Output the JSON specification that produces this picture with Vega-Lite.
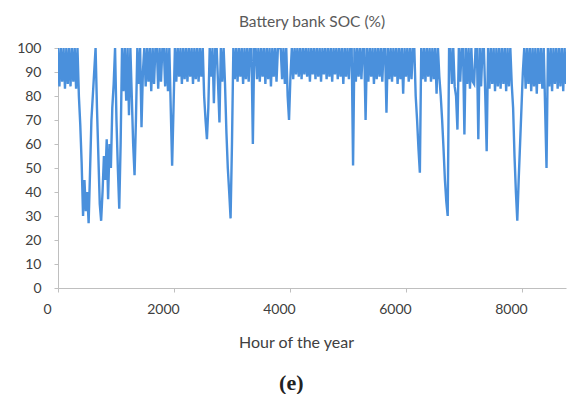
{
"$schema": "https://vega.github.io/schema/vega-lite/v6.json",
"background": "white",
"padding": {"left": 16, "top": 14, "right": 2, "bottom": 0},
"config": {"view": {"stroke": null}, "font": "Lato"},
"title": {"text": "(e)", "orient": "bottom", "anchor": "middle", "font": "Liberation Serif", "fontSize": 22, "fontWeight": "bold", "color": "#222222", "offset": 23},
"vconcat": [{
"width": 508,
"height": 240,
"title": {"text": "Battery bank SOC (%)", "anchor": "middle", "frame": "group", "fontSize": 15.5, "fontWeight": "normal", "color": "#595959", "offset": 11},
"data": {"values": [
{"h":0,"s":100},{"h":24,"s":84},{"h":48,"s":100},{"h":72,"s":86},{"h":96,"s":100},{"h":120,"s":83},{"h":144,"s":100},{"h":168,"s":85},{"h":192,"s":100},{"h":216,"s":84},
{"h":240,"s":100},{"h":264,"s":86},{"h":288,"s":100},{"h":312,"s":83},{"h":336,"s":100},{"h":360,"s":80},{"h":384,"s":68},{"h":408,"s":52},{"h":432,"s":30},{"h":456,"s":45},
{"h":480,"s":32},{"h":504,"s":40},{"h":528,"s":27},{"h":552,"s":48},{"h":576,"s":70},{"h":600,"s":80},{"h":624,"s":90},{"h":648,"s":100},{"h":672,"s":75},{"h":696,"s":55},
{"h":720,"s":35},{"h":744,"s":28},{"h":768,"s":40},{"h":792,"s":55},{"h":816,"s":45},{"h":840,"s":62},{"h":864,"s":37},{"h":888,"s":60},{"h":912,"s":50},{"h":936,"s":75},
{"h":960,"s":85},{"h":984,"s":100},{"h":1008,"s":70},{"h":1032,"s":50},{"h":1056,"s":33},{"h":1080,"s":60},{"h":1104,"s":100},{"h":1128,"s":82},{"h":1152,"s":100},{"h":1176,"s":78},
{"h":1200,"s":100},{"h":1224,"s":72},{"h":1248,"s":100},{"h":1272,"s":80},{"h":1296,"s":60},{"h":1320,"s":47},{"h":1344,"s":70},{"h":1368,"s":100},{"h":1392,"s":85},{"h":1416,"s":100},
{"h":1440,"s":67},{"h":1464,"s":90},{"h":1488,"s":100},{"h":1512,"s":84},{"h":1536,"s":100},{"h":1560,"s":86},{"h":1584,"s":100},{"h":1608,"s":82},{"h":1632,"s":100},{"h":1656,"s":85},
{"h":1680,"s":100},{"h":1704,"s":100},{"h":1728,"s":83},{"h":1752,"s":100},{"h":1776,"s":86},{"h":1800,"s":100},{"h":1824,"s":100},{"h":1848,"s":84},{"h":1872,"s":100},{"h":1896,"s":82},
{"h":1920,"s":100},{"h":1944,"s":75},{"h":1968,"s":51},{"h":1992,"s":75},{"h":2016,"s":100},{"h":2040,"s":86},{"h":2064,"s":100},{"h":2088,"s":88},{"h":2112,"s":100},{"h":2136,"s":85},
{"h":2160,"s":100},{"h":2184,"s":87},{"h":2208,"s":100},{"h":2232,"s":86},{"h":2256,"s":100},{"h":2280,"s":88},{"h":2304,"s":100},{"h":2328,"s":85},{"h":2352,"s":100},{"h":2376,"s":87},
{"h":2400,"s":100},{"h":2424,"s":86},{"h":2448,"s":100},{"h":2472,"s":88},{"h":2496,"s":100},{"h":2520,"s":80},{"h":2544,"s":70},{"h":2568,"s":62},{"h":2592,"s":75},{"h":2616,"s":100},
{"h":2640,"s":88},{"h":2664,"s":100},{"h":2688,"s":77},{"h":2712,"s":100},{"h":2736,"s":100},{"h":2760,"s":85},{"h":2784,"s":69},{"h":2808,"s":100},{"h":2832,"s":86},{"h":2856,"s":100},
{"h":2880,"s":85},{"h":2904,"s":65},{"h":2928,"s":50},{"h":2952,"s":40},{"h":2976,"s":29},{"h":3000,"s":60},{"h":3024,"s":100},{"h":3048,"s":87},{"h":3072,"s":100},{"h":3096,"s":86},
{"h":3120,"s":100},{"h":3144,"s":88},{"h":3168,"s":100},{"h":3192,"s":85},{"h":3216,"s":100},{"h":3240,"s":87},{"h":3264,"s":100},{"h":3288,"s":86},{"h":3312,"s":100},{"h":3336,"s":100},
{"h":3360,"s":60},{"h":3384,"s":100},{"h":3408,"s":100},{"h":3432,"s":87},{"h":3456,"s":100},{"h":3480,"s":86},{"h":3504,"s":100},{"h":3528,"s":88},{"h":3552,"s":100},{"h":3576,"s":85},
{"h":3600,"s":100},{"h":3624,"s":87},{"h":3648,"s":100},{"h":3672,"s":84},{"h":3696,"s":100},{"h":3720,"s":88},{"h":3744,"s":100},{"h":3768,"s":86},{"h":3792,"s":100},{"h":3816,"s":100},
{"h":3840,"s":100},{"h":3864,"s":87},{"h":3888,"s":100},{"h":3912,"s":85},{"h":3936,"s":100},{"h":3960,"s":80},{"h":3984,"s":70},{"h":4008,"s":88},{"h":4032,"s":100},{"h":4056,"s":87},
{"h":4080,"s":100},{"h":4104,"s":89},{"h":4128,"s":100},{"h":4152,"s":88},{"h":4176,"s":100},{"h":4200,"s":87},{"h":4224,"s":100},{"h":4248,"s":89},{"h":4272,"s":100},{"h":4296,"s":88},
{"h":4320,"s":100},{"h":4344,"s":86},{"h":4368,"s":100},{"h":4392,"s":89},{"h":4416,"s":100},{"h":4440,"s":87},{"h":4464,"s":100},{"h":4488,"s":88},{"h":4512,"s":100},{"h":4536,"s":86},
{"h":4560,"s":100},{"h":4584,"s":89},{"h":4608,"s":100},{"h":4632,"s":87},{"h":4656,"s":100},{"h":4680,"s":88},{"h":4704,"s":100},{"h":4728,"s":86},{"h":4752,"s":100},{"h":4776,"s":89},
{"h":4800,"s":100},{"h":4824,"s":87},{"h":4848,"s":100},{"h":4872,"s":88},{"h":4896,"s":100},{"h":4920,"s":85},{"h":4944,"s":100},{"h":4968,"s":88},{"h":4992,"s":100},{"h":5016,"s":87},
{"h":5040,"s":100},{"h":5064,"s":100},{"h":5088,"s":51},{"h":5112,"s":100},{"h":5136,"s":86},{"h":5160,"s":100},{"h":5184,"s":88},{"h":5208,"s":100},{"h":5232,"s":87},{"h":5256,"s":100},
{"h":5280,"s":100},{"h":5304,"s":70},{"h":5328,"s":100},{"h":5352,"s":86},{"h":5376,"s":100},{"h":5400,"s":88},{"h":5424,"s":100},{"h":5448,"s":85},{"h":5472,"s":100},{"h":5496,"s":87},
{"h":5520,"s":100},{"h":5544,"s":88},{"h":5568,"s":100},{"h":5592,"s":86},{"h":5616,"s":100},{"h":5640,"s":100},{"h":5664,"s":73},{"h":5688,"s":100},{"h":5712,"s":87},{"h":5736,"s":100},
{"h":5760,"s":86},{"h":5784,"s":100},{"h":5808,"s":88},{"h":5832,"s":100},{"h":5856,"s":85},{"h":5880,"s":100},{"h":5904,"s":87},{"h":5928,"s":100},{"h":5952,"s":81},{"h":5976,"s":100},
{"h":6000,"s":88},{"h":6024,"s":100},{"h":6048,"s":86},{"h":6072,"s":100},{"h":6096,"s":87},{"h":6120,"s":100},{"h":6144,"s":100},{"h":6168,"s":80},{"h":6192,"s":70},{"h":6216,"s":58},
{"h":6240,"s":48},{"h":6264,"s":100},{"h":6288,"s":87},{"h":6312,"s":100},{"h":6336,"s":86},{"h":6360,"s":100},{"h":6384,"s":88},{"h":6408,"s":100},{"h":6432,"s":86},{"h":6456,"s":100},
{"h":6480,"s":87},{"h":6504,"s":100},{"h":6528,"s":81},{"h":6552,"s":100},{"h":6576,"s":88},{"h":6600,"s":80},{"h":6624,"s":70},{"h":6648,"s":58},{"h":6672,"s":45},{"h":6696,"s":36},
{"h":6720,"s":30},{"h":6744,"s":100},{"h":6768,"s":100},{"h":6792,"s":85},{"h":6816,"s":100},{"h":6840,"s":84},{"h":6864,"s":80},{"h":6888,"s":66},{"h":6912,"s":100},{"h":6936,"s":86},
{"h":6960,"s":100},{"h":6984,"s":100},{"h":7008,"s":64},{"h":7032,"s":100},{"h":7056,"s":85},{"h":7080,"s":100},{"h":7104,"s":83},{"h":7128,"s":100},{"h":7152,"s":86},{"h":7176,"s":85},
{"h":7200,"s":100},{"h":7224,"s":100},{"h":7248,"s":62},{"h":7272,"s":100},{"h":7296,"s":84},{"h":7320,"s":100},{"h":7344,"s":100},{"h":7368,"s":80},{"h":7392,"s":57},{"h":7416,"s":100},
{"h":7440,"s":83},{"h":7464,"s":100},{"h":7488,"s":85},{"h":7512,"s":100},{"h":7536,"s":82},{"h":7560,"s":100},{"h":7584,"s":84},{"h":7608,"s":100},{"h":7632,"s":83},{"h":7656,"s":100},
{"h":7680,"s":85},{"h":7704,"s":100},{"h":7728,"s":82},{"h":7752,"s":100},{"h":7776,"s":84},{"h":7800,"s":100},{"h":7824,"s":85},{"h":7848,"s":75},{"h":7872,"s":55},{"h":7896,"s":40},
{"h":7920,"s":28},{"h":7944,"s":45},{"h":7968,"s":60},{"h":7992,"s":75},{"h":8016,"s":90},{"h":8040,"s":100},{"h":8064,"s":83},{"h":8088,"s":100},{"h":8112,"s":85},{"h":8136,"s":100},
{"h":8160,"s":82},{"h":8184,"s":100},{"h":8208,"s":84},{"h":8232,"s":100},{"h":8256,"s":81},{"h":8280,"s":100},{"h":8304,"s":85},{"h":8328,"s":100},{"h":8352,"s":83},{"h":8376,"s":100},
{"h":8400,"s":75},{"h":8424,"s":50},{"h":8448,"s":100},{"h":8472,"s":84},{"h":8496,"s":100},{"h":8520,"s":82},{"h":8544,"s":100},{"h":8568,"s":85},{"h":8592,"s":100},{"h":8616,"s":83},
{"h":8640,"s":100},{"h":8664,"s":84},{"h":8688,"s":100},{"h":8712,"s":82},{"h":8736,"s":100},{"h":8760,"s":85}
]},
"mark": {"type": "line", "strokeWidth": 2.4, "color": "#4a90dc", "clip": true},
"encoding": {
"x": {"field": "h", "type": "quantitative", "scale": {"domain": [0, 8760], "nice": false},
 "axis": {"values": [0, 2000, 4000, 6000, 8000], "format": "d", "title": "Hour of the year", "titleFontSize": 16, "titleFontWeight": "normal", "titleColor": "#404040", "titlePadding": 18, "titleX": 238,
  "labelFontSize": 14, "labelColor": "#404040", "labelPadding": 10, "labelOffset": -11, "tickSize": 4, "tickColor": "#bfbfbf", "domainColor": "#bfbfbf", "grid": false, "labelFlush": false}},
"y": {"field": "s", "type": "quantitative", "scale": {"domain": [0, 100], "nice": false},
 "axis": {"values": [0, 10, 20, 30, 40, 50, 60, 70, 80, 90, 100], "title": null, "labelFontSize": 14, "labelColor": "#404040", "labelPadding": 13, "tickSize": 4, "tickColor": "#bfbfbf", "domainColor": "#bfbfbf", "grid": false}}
}
}]
}
